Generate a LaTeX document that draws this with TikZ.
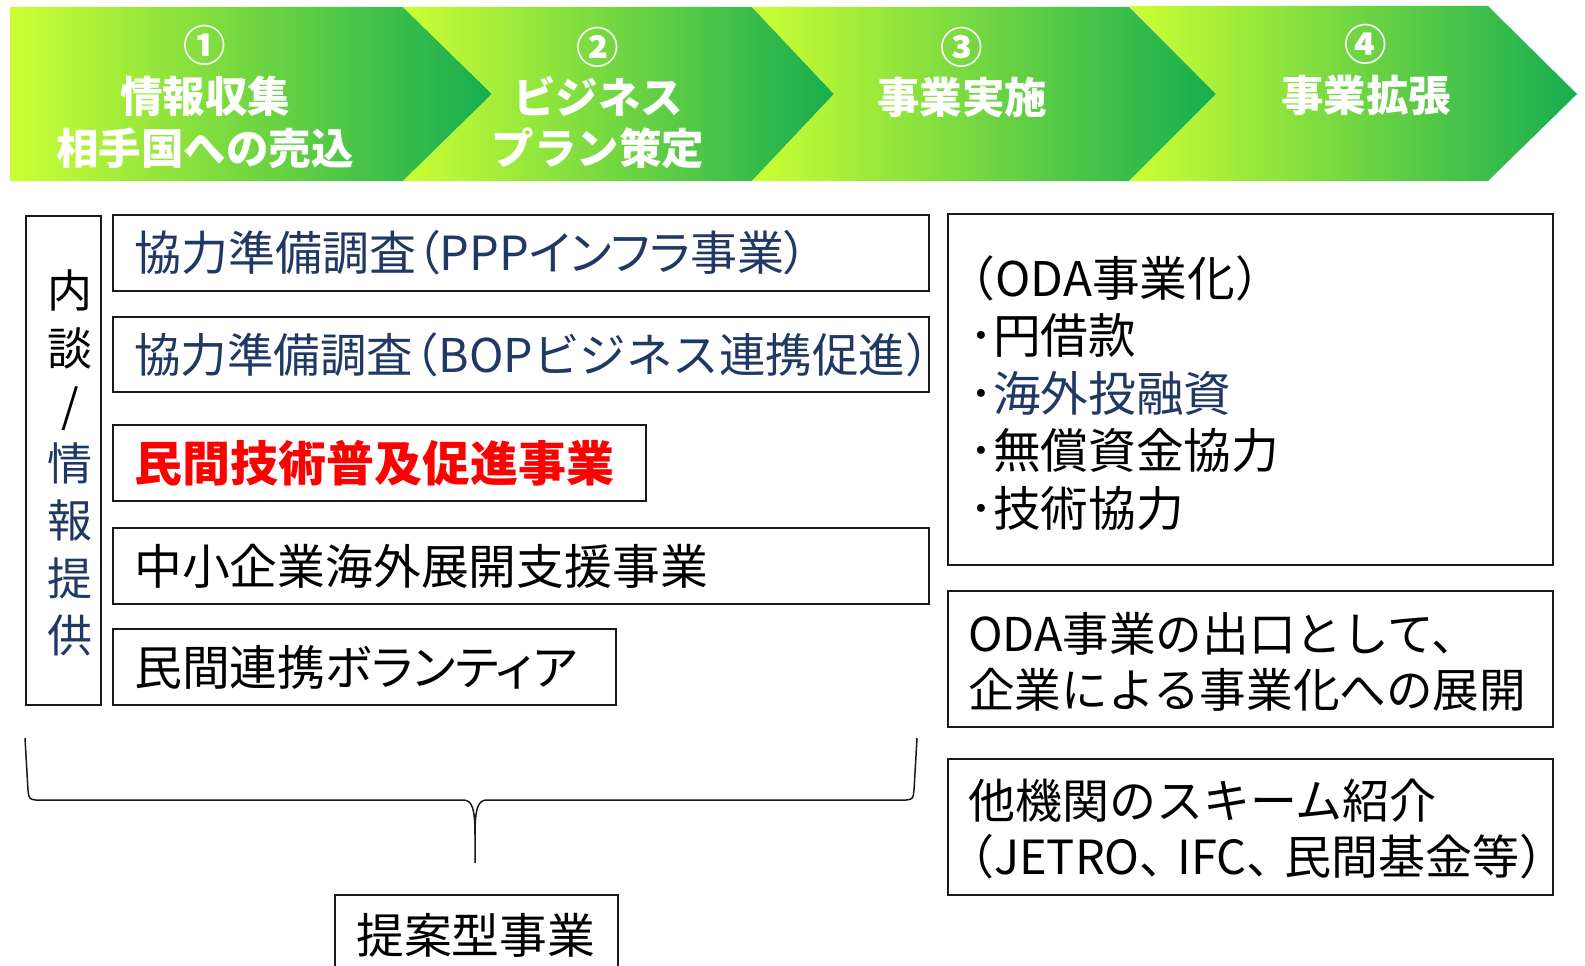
\documentclass[tikz,border=0pt]{standalone}
\usepackage{fontspec}
\setmainfont{Noto Sans CJK JP}
\newfontfamily\pfont{Noto Sans CJK JP}[RawFeature={+palt}]
\definecolor{dblue}{RGB}{31,56,100}
\definecolor{gL}{RGB}{204,255,51}
\definecolor{gR}{RGB}{22,173,80}
\definecolor{frm}{RGB}{25,25,25}
\newcommand\zl{\kern-0.45em（}
\newcommand\zr{）\kern-0.45em}
\newcommand\zc{、\kern-0.2em}
\newcommand\fs[1]{\fontsize{#1}{57.5}\selectfont}
\begin{document}
\begin{tikzpicture}[x=1pt,y=-1pt,
  frame/.style={draw=frm, line width=1.8pt, rectangle, inner sep=0pt, anchor=north west},
  lbl/.style={anchor=west, inner sep=0pt, font=\fs{47.8}, align=left},
  head/.style={text=white, font=\bfseries\fontsize{42.5}{44}\selectfont, inner sep=0pt},
  chev/.style={left color=gL, right color=gR}]
\useasboundingbox (0,0) rectangle (1585,966);
\fill[white] (0,0) rectangle (1585,966);
% header chevrons
\shade[chev] (10,7) -- (403,7) -- (492,94) -- (403,181) -- (10,181) -- cycle;
\shade[chev] (403,7) -- (752,7) -- (834,94) -- (752,181) -- (403,181) -- (492,94) -- cycle;
\shade[chev] (752,7) -- (1129,7) -- (1216,94) -- (1129,181) -- (752,181) -- (834,94) -- cycle;
\shade[chev] (1129,6) -- (1488,6) -- (1577,94) -- (1488,181) -- (1129,181) -- (1216,94) -- cycle;
\node[head] (h1n) at (205,45) {①};
\node[head] (h1a) at (205,96) {情報収集};
\node[head] (h1b) at (205,148) {相手国への売込};
\node[head] (h2n) at (598,47) {②};
\node[head] (h2a) at (598,96) {ビジネス};
\node[head] (h2b) at (598,148) {プラン策定};
\node[head] (h3n) at (962,47) {③};
\node[head] (h3a) at (962,97) {事業実施};
\node[head] (h4n) at (1366,44) {④};
\node[head] (h4a) at (1366,95) {事業拡張};
% left column
\node[frame, minimum width=75pt, minimum height=489pt] (lb) at (25,215) {};
\node[inner sep=0pt, align=center, font=\fs{45}] (lbt) at (70,463)
  {内\\談\\/\\\textcolor{dblue}{情}\\\textcolor{dblue}{報}\\\textcolor{dblue}{提}\\\textcolor{dblue}{供}};
% program boxes
\node[frame, minimum width=816pt, minimum height=76pt] (fA) at (112,214) {};
\node[lbl, text=dblue, font=\pfont\fs{47}] (tA) at ([xshift=22pt]fA.west) {協力準備調査（PPPインフラ事業）};
\node[frame, minimum width=816pt, minimum height=75pt] (fB) at (112,316) {};
\node[lbl, text=dblue, font=\fs{46.5}] (tB) at ([xshift=22pt]fB.west) {協力準備調査\zl BOPビジネス連携促進\zr};
\node[frame, minimum width=533pt, minimum height=76pt] (fC) at (112,424) {};
\node[lbl, text=red, font=\bfseries\fs{48}] (tC) at ([xshift=22pt]fC.west) {民間技術普及促進事業};
\node[frame, minimum width=816pt, minimum height=76pt] (fD) at (112,527) {};
\node[lbl] (tD) at ([xshift=22pt]fD.west) {中小企業海外展開支援事業};
\node[frame, minimum width=503pt, minimum height=76pt] (fE) at (112,628) {};
\node[lbl, font=\pfont\fs{47.8}] (tE) at ([xshift=22pt]fE.west) {民間連携ボランティア};
% brace
\coordinate (bl) at (25,738);
\coordinate (br) at (917,738);
\coordinate (bt) at (475,863);
\draw[line width=1.5pt, draw=frm] (bl) -- (28,790) .. controls (29,799) .. (36,800) -- (463,800)
  .. controls (472,800) and (475,808) .. (475,835) -- (bt);
\draw[line width=1.5pt, draw=frm] (475,835) .. controls (475,808) and (478,800) .. (487,800)
  -- (906,800) .. controls (913,799) .. (914,790) -- (br);
% bottom box
\node[frame, minimum width=283pt, minimum height=90pt] (fP) at (334,894) {};
\node[lbl] (tP) at (356,935) {提案型事業};
% right boxes
\node[frame, minimum width=605pt, minimum height=351pt] (r1) at (947,213) {};
\node[lbl, font=\fs{47.7}] (r1t) at (969,393) {\zl ODA事業化\zr\\･円借款\\･\textcolor{dblue}{海外投融資}\\･無償資金協力\\･技術協力};
\node[frame, minimum width=605pt, minimum height=136pt] (r2) at (947,590) {};
\node[lbl, font=\fontsize{46.6}{56}\selectfont] (r2t) at (968,662) {ODA事業の出口として、\\企業による事業化への展開};
\node[frame, minimum width=605pt, minimum height=136pt] (r3) at (947,758) {};
\node[lbl, font=\fontsize{47}{56}\selectfont] (r3t) at (968,829) {他機関のスキーム紹介\\\zl JETRO\zc IFC\zc 民間基金等\zr};
\end{tikzpicture}
\end{document}
